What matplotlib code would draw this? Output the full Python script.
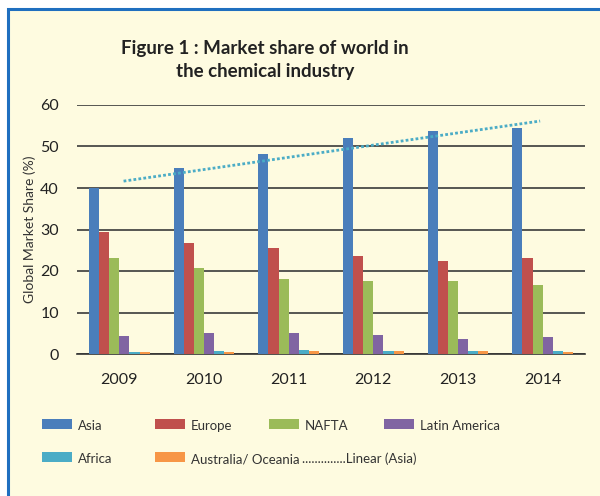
import numpy as np
import matplotlib
matplotlib.use('Agg')
from matplotlib import pyplot as plt
from matplotlib.patches import Rectangle

plt.rcParams['font.family'] = ['Lato', 'DejaVu Sans']

# market share (%) per region and year
years = ['2009', '2010', '2011', '2012', '2013', '2014']
asia = [40.0, 44.8, 48.2, 52.0, 53.7, 54.5]
europe = [29.4, 26.7, 25.5, 23.6, 22.4, 23.1]
nafta = [23.1, 20.7, 18.1, 17.6, 17.6, 16.6]
latin_america = [4.3, 5.1, 5.1, 4.6, 3.7, 4.1]
africa = [0.5, 0.8, 1.0, 0.8, 0.8, 0.8]
australia = [0.5, 0.6, 0.8, 0.8, 0.8, 0.5]

series = [('Asia', asia, '#4A7EBB'),
          ('Europe', europe, '#C0504D'),
          ('NAFTA', nafta, '#9BBB59'),
          ('Latin America', latin_america, '#8064A2'),
          ('Africa', africa, '#4BACC6'),
          ('Australia/ Oceania', australia, '#F79646')]

bg = '#FEFBE0'
fig = plt.figure(figsize=(6, 4.96), dpi=100)
fig.patch.set_facecolor('white')

# yellow panel with blue frame, kept behind the axes
fig.add_artist(Rectangle((8/600, -0.1), 1.0, 1 - 9/496 + 0.1, transform=fig.transFigure,
                         facecolor=bg, edgecolor='#1F6FBF', linewidth=2.2, zorder=-10))

ax = fig.add_axes([77/600, 1 - 354/496, 508/600, 249/496])
ax.set_facecolor(bg)

x = np.arange(len(years))
w = 0.12
for i, (name, vals, col) in enumerate(series):
    ax.bar(x + (i - 2.5) * w, vals, w, color=col, zorder=3)

# linear trend of Asia
k, b = np.polyfit(x, asia, 1)
xt = np.array([0.05, 4.97])
ax.plot(xt, k * xt + b, color='#4BACC6', linestyle=(0, (1, 0.8)), linewidth=2, zorder=4)

ax.set_xlim(-0.5, 5.5)
ax.set_ylim(0, 60)
ax.set_yticks(range(0, 61, 10))
ax.set_xticks(x)
ax.set_xticklabels(years)
ax.tick_params(length=0, labelsize=11.5, colors='#222222')
ax.tick_params(axis='x', pad=14)
ax.tick_params(axis='y', pad=13)
ax.yaxis.grid(True, color='#3a3a3a', linewidth=1.2, zorder=0)
ax.set_axisbelow(True)
for s in ['top', 'right', 'left']:
    ax.spines[s].set_visible(False)
ax.spines['bottom'].set_color('#333333')
ax.spines['bottom'].set_linewidth(1.2)
ax.set_ylabel('Global Market Share (%)', fontsize=10, color='#333333', labelpad=3)

fig.text(265/600, 1 - 60/496, 'Figure 1 : Market share of world in\nthe chemical industry',
         ha='center', va='center', fontsize=13.5, fontweight='bold', color='#222222',
         linespacing=1.45)

# legend laid out in two rows
px = [42, 155, 269, 384]
rows = [424, 457]
for i, (name, vals, col) in enumerate(series):
    r, c = divmod(i, 4)
    fig.add_artist(Rectangle((px[c]/600, 1 - (rows[r] + 5)/496), 30/600, 10/496,
                             transform=fig.transFigure, facecolor=col, edgecolor='none'))
    fig.text((px[c] + 36)/600, 1 - (rows[r] + 2)/496, name, fontsize=9.5,
             color='#333333', va='center')
fig.text(302/600, 1 - (rows[1] + 2)/496, '..............Linear (Asia)', fontsize=9.5,
         color='#333333', va='center')

fig.savefig('out.png', dpi=100, facecolor=fig.get_facecolor())
